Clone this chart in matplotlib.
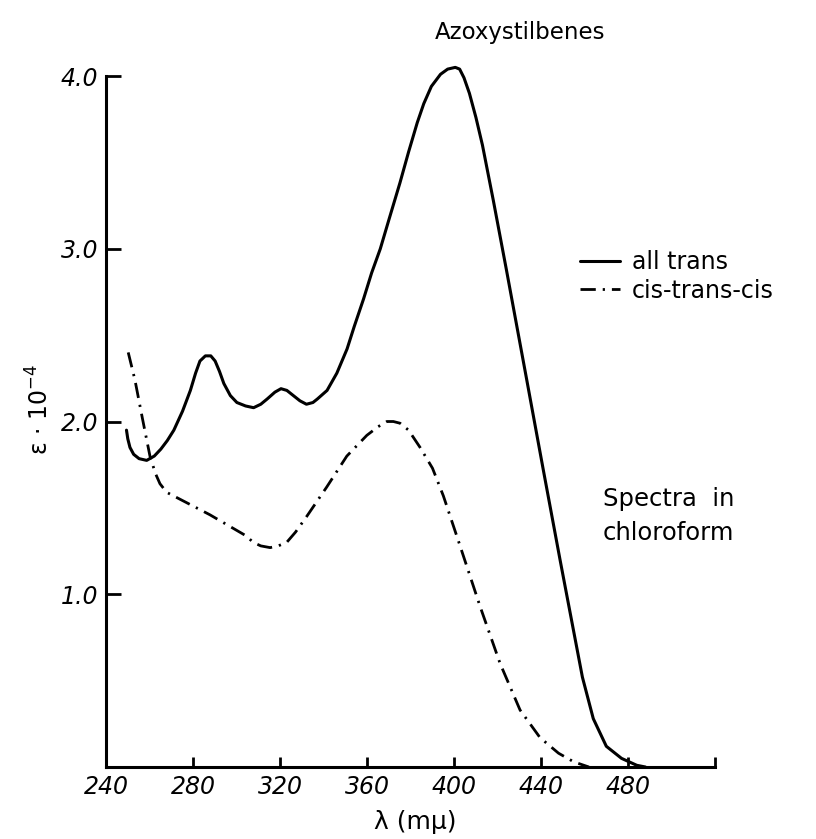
import matplotlib
matplotlib.use("Agg")
import matplotlib.pyplot as plt

# all-trans azoxystilbene, absorption in chloroform
lam_trans = [249.2, 249.8, 250.8, 252.5, 255, 258.5, 262, 265, 268, 271,
             275, 278.6, 281, 283, 285.5, 288, 290, 292, 294, 297,
             300, 304, 307.7, 311, 313.9, 317.5, 320.3, 323, 326, 329,
             332, 335, 337, 341.5, 346, 350.7, 354, 358.3, 362, 366,
             370, 375, 379, 383, 386, 389.5, 393.7, 397, 400.5, 402.5,
             404.5, 407, 410, 413, 418, 424, 433.4, 441, 448.7, 454,
             459, 464, 470, 477, 484, 488]
eps_trans = [1.95, 1.90, 1.85, 1.81, 1.785, 1.775, 1.80, 1.84, 1.89, 1.95,
             2.06, 2.18, 2.28, 2.35, 2.38, 2.38, 2.35, 2.29, 2.22, 2.15,
             2.11, 2.09, 2.08, 2.10, 2.13, 2.17, 2.19, 2.18, 2.15, 2.12,
             2.10, 2.11, 2.13, 2.18, 2.28, 2.42, 2.55, 2.71, 2.86, 3.00,
             3.17, 3.38, 3.56, 3.73, 3.84, 3.94, 4.01, 4.04, 4.05, 4.04,
             3.99, 3.90, 3.76, 3.60, 3.28, 2.88, 2.24, 1.72, 1.20, 0.85,
             0.52, 0.28, 0.12, 0.05, 0.01, 0.0]

# cis-trans-cis isomer
lam_cis = [250.0, 253.1, 256.5, 260.0, 262.5, 264.6, 267.7, 276.9, 287.6, 299.9,
           304, 307.6, 311, 315.3, 319, 322.9, 327, 332.1, 341.3, 350.6,
           359.8, 365, 369.0, 372, 375.1, 379, 384.3, 390, 395.0, 402.7,
           411.9, 421.1, 430.3, 439.5, 448.0, 455, 462]
eps_cis = [2.40, 2.24, 2.02, 1.80, 1.70, 1.64, 1.59, 1.53, 1.46, 1.37,
           1.34, 1.30, 1.28, 1.27, 1.28, 1.30, 1.36, 1.45, 1.62, 1.80,
           1.92, 1.97, 2.00, 2.00, 1.99, 1.95, 1.85, 1.73, 1.57, 1.28,
           0.93, 0.60, 0.33, 0.17, 0.08, 0.03, 0.0]

xticks = [240, 280, 320, 360, 400, 440, 480, 520]
xticklabels = ["240", "280", "320", "360", "400", "440", "480", ""]
yticks = [1.0, 2.0, 3.0, 4.0]
yticklabels = ["1.0", "2.0", "3.0", "4.0"]

plt.rcParams['font.family'] = ['DejaVu Sans']

fig = plt.figure(figsize=(8.16, 8.39), dpi=100)
ax = fig.add_axes([0.1305, 0.0858, 0.7457, 0.8236])

ax.plot(lam_trans, eps_trans, color='black', lw=2.2, clip_on=False,
        solid_joinstyle='round', solid_capstyle='round', label='all trans')
ax.plot(lam_cis, eps_cis, color='black', lw=2.0, clip_on=False,
        linestyle=(0, (5.5, 2.5, 0.8, 2.5)), label='cis-trans-cis')

ax.set_xlim(240, 520)
ax.set_ylim(0, 4.0)

for side in ['top', 'right']:
    ax.spines[side].set_visible(False)
for side in ['left', 'bottom']:
    ax.spines[side].set_linewidth(2.2)

ax.set_xticks(xticks)
ax.set_xticklabels(xticklabels, fontsize=17, style='italic')
ax.set_yticks(yticks)
ax.set_yticklabels(yticklabels, fontsize=17, style='italic')
ax.tick_params(axis='x', direction='in', length=7, width=2, pad=6)
ax.tick_params(axis='y', direction='in', length=11, width=2, pad=6)

fig.text(40 / 816, 1 - 410 / 839, 'ε · 10$^{-4}$', rotation=90,
         ha='center', va='center', fontsize=17)
fig.text(415 / 816, 1 - 822 / 839, 'λ (mμ)', ha='center', va='center',
         fontsize=18)
fig.text(520 / 816, 1 - 33 / 839, 'Azoxystilbenes', ha='center', va='center',
         fontsize=16.5)

ax.legend(loc='upper left', bbox_to_anchor=(580 / 816, 1 - 250 / 839),
          bbox_transform=fig.transFigure, frameon=False, fontsize=17,
          handlelength=1.7, handletextpad=0.5, labelspacing=0.2,
          borderpad=0, borderaxespad=0)

fig.text(603 / 816, 1 - 516 / 839, 'Spectra  in\nchloroform', ha='left',
         va='center', fontsize=17.5, linespacing=1.5)

fig.savefig('out.png', dpi=100)
